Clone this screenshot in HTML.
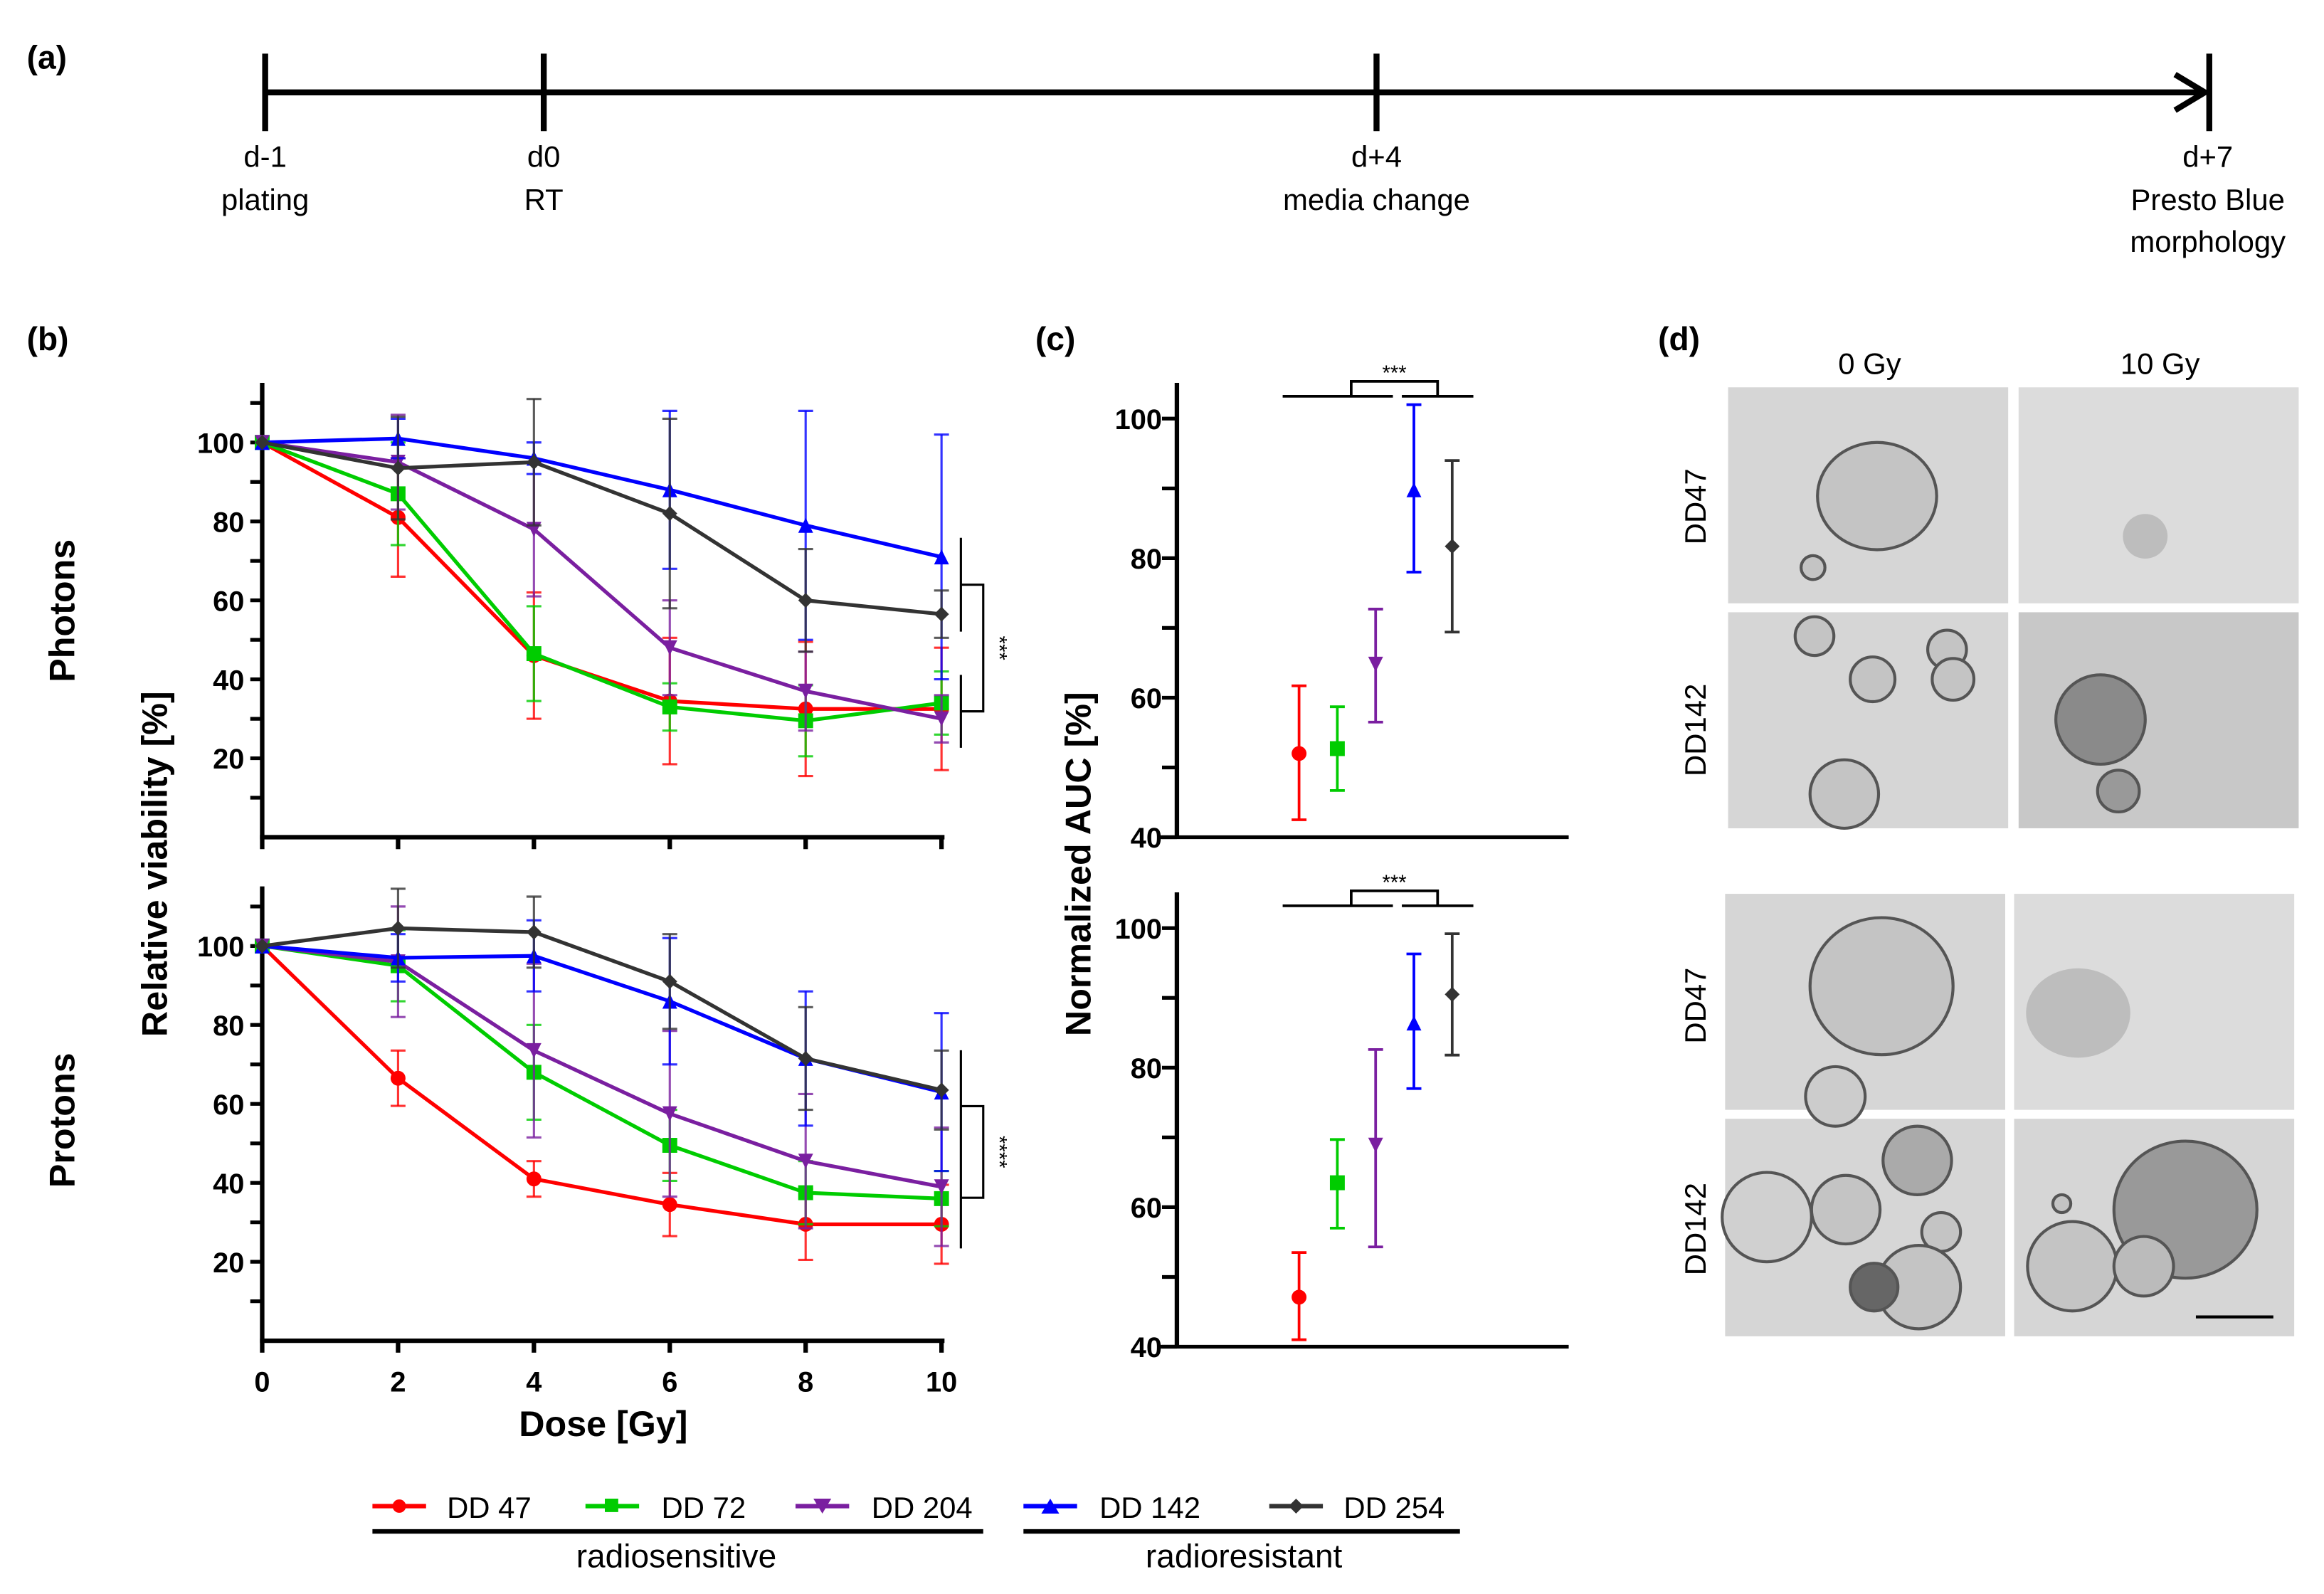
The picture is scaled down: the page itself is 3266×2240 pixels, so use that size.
<!DOCTYPE html>
<html><head><meta charset="utf-8"><style>
html,body{margin:0;padding:0;background:#fff;}
svg{display:block;}
text{font-family:"Liberation Sans",sans-serif;}
</style></head><body>
<svg id="fig" width="3266" height="2240" viewBox="0 0 1560 1070" preserveAspectRatio="none" xmlns="http://www.w3.org/2000/svg">
<rect width="1560" height="1070" fill="#fff"/>
<g>
<text x="18" y="46" font-size="22" font-weight="bold">(a)</text>
<line x1="178" y1="62" x2="1478" y2="62" stroke="#000" stroke-width="4"/>
<polyline points="1460,50 1480,62 1460,74" fill="none" stroke="#000" stroke-width="4"/>
<line x1="178" y1="36" x2="178" y2="88" stroke="#000" stroke-width="4"/>
<line x1="365" y1="36" x2="365" y2="88" stroke="#000" stroke-width="4"/>
<line x1="924" y1="36" x2="924" y2="88" stroke="#000" stroke-width="4"/>
<line x1="1483" y1="36" x2="1483" y2="88" stroke="#000" stroke-width="4"/>
<g font-size="20" text-anchor="middle">
<text x="178" y="112">d-1</text><text x="178" y="141">plating</text>
<text x="365" y="112">d0</text><text x="365" y="141">RT</text>
<text x="924" y="112">d+4</text><text x="924" y="141">media change</text>
<text x="1482" y="112">d+7</text><text x="1482" y="141">Presto Blue</text><text x="1482" y="169">morphology</text>
</g></g>
<text x="18" y="235" font-size="22" font-weight="bold">(b)</text>
<text x="695" y="235" font-size="22" font-weight="bold">(c)</text>
<text x="1113" y="235" font-size="22" font-weight="bold">(d)</text>
<text transform="translate(50,410) rotate(-90)" font-size="24" font-weight="bold" text-anchor="middle">Photons</text>
<text transform="translate(50,752) rotate(-90)" font-size="24" font-weight="bold" text-anchor="middle">Protons</text>
<text transform="translate(112,580) rotate(-90)" font-size="24" font-weight="bold" text-anchor="middle">Relative viability [%]</text>
<text x="405" y="964" font-size="24" font-weight="bold" text-anchor="middle">Dose [Gy]</text>
<text transform="translate(732,580) rotate(-90)" font-size="24" font-weight="bold" text-anchor="middle">Normalized AUC [%]</text>
<g id="plots"></g>
<g font-size="20">
<g><line x1="250" y1="1011" x2="286" y2="1011" stroke="#f00" stroke-width="3"/><circle cx="268" cy="1011" r="4.5" fill="#f00"/><text x="300" y="1019">DD 47</text></g>
<g><line x1="393" y1="1011" x2="429" y2="1011" stroke="#0c0" stroke-width="3"/><rect x="406" y="1006" width="9" height="9" fill="#0c0"/><text x="444" y="1019">DD 72</text></g>
<g><line x1="534" y1="1011" x2="570" y2="1011" stroke="#7a1fa0" stroke-width="3"/><polygon points="546,1006 558,1006 552,1016" fill="#7a1fa0"/><text x="585" y="1019">DD 204</text></g>
<g><line x1="687" y1="1011" x2="723" y2="1011" stroke="#00f" stroke-width="3"/><polygon points="699,1016 711,1016 705,1006" fill="#00f"/><text x="738" y="1019">DD 142</text></g>
<g><line x1="852" y1="1011" x2="888" y2="1011" stroke="#333" stroke-width="3"/><polygon points="870,1006 875,1011 870,1016 865,1011" fill="#333"/><text x="902" y="1019">DD 254</text></g>
<line x1="250" y1="1028" x2="660" y2="1028" stroke="#000" stroke-width="3"/>
<line x1="687" y1="1028" x2="980" y2="1028" stroke="#000" stroke-width="3"/>
<text x="454" y="1052" text-anchor="middle" font-size="22">radiosensitive</text>
<text x="835" y="1052" text-anchor="middle" font-size="22">radioresistant</text>
</g>
<g>
<text x="1255" y="251" font-size="20" text-anchor="middle">0 Gy</text>
<text x="1450" y="251" font-size="20" text-anchor="middle">10 Gy</text>
<g font-size="20" text-anchor="middle">
<text transform="translate(1145,340) rotate(-90)">DD47</text>
<text transform="translate(1145,490) rotate(-90)">DD142</text>
<text transform="translate(1145,675) rotate(-90)">DD47</text>
<text transform="translate(1145,825) rotate(-90)">DD142</text>
</g>
<g fill="#d6d6d6">
<rect x="1160" y="260" width="188" height="145"/>
<rect x="1355" y="260" width="188" height="145" fill="#dcdcdc"/>
<rect x="1160" y="411" width="188" height="145"/>
<rect x="1355" y="411" width="188" height="145" fill="#c8c8c8"/>
<rect x="1158" y="600" width="188" height="145"/>
<rect x="1352" y="600" width="188" height="145" fill="#dcdcdc"/>
<rect x="1158" y="751" width="188" height="146"/>
<rect x="1352" y="751" width="188" height="146"/>
</g>
<g fill="#c4c4c4" stroke="#555" stroke-width="2">
<ellipse cx="1260" cy="333" rx="40" ry="36"/>
<circle cx="1217" cy="381" r="8"/>
<circle cx="1218" cy="427" r="13"/><circle cx="1257" cy="456" r="15"/><circle cx="1307" cy="436" r="13"/><circle cx="1311" cy="456" r="14"/><circle cx="1238" cy="533" r="23"/>
<circle cx="1410" cy="483" r="30" fill="#8a8a8a"/><circle cx="1422" cy="531" r="14" fill="#999"/>
<ellipse cx="1263" cy="662" rx="48" ry="46"/><circle cx="1232" cy="736" r="20" fill="#ccc"/>
<circle cx="1287" cy="779" r="23" fill="#aaa"/><circle cx="1186" cy="817" r="30" fill="#d0d0d0"/><circle cx="1239" cy="812" r="23"/><circle cx="1303" cy="827" r="13"/><circle cx="1288" cy="864" r="28"/><circle cx="1258" cy="864" r="16" fill="#666"/>
<ellipse cx="1467" cy="812" rx="48" ry="46" fill="#999"/><circle cx="1391" cy="850" r="30"/><circle cx="1439" cy="850" r="20" fill="#bbb"/><circle cx="1384" cy="808" r="6"/>
</g>
<g fill="#a9a9a9"><ellipse cx="1440" cy="360" rx="15" ry="15" opacity="0.6"/><ellipse cx="1395" cy="680" rx="35" ry="30" opacity="0.6"/></g>
<line x1="1474" y1="884" x2="1526" y2="884" stroke="#000" stroke-width="2"/>
</g>
</svg>
<script>
// ---- Panel b data ----
const doses = [0, 2, 4, 6, 8, 10];
const xTicks = [0, 2, 4, 6, 8, 10];
const yTicksB = [20, 40, 60, 80, 100];
const photonDD47 = [100, 81, 46, 34.5, 32.5, 32.5];
const photonDD47Err = [0, 15, 16, 16, 17, 15.5];
const photonDD72 = [100, 87, 46.5, 33, 29.5, 34];
const photonDD72Err = [0, 13, 12, 6, 9, 8];
const photonDD204 = [100, 95, 78, 48, 37, 30];
const photonDD204Err = [0, 12, 17, 12, 10, 6];
const photonDD142 = [100, 101, 96, 88, 79, 71];
const photonDD142Err = [0, 5, 4, 20, 29, 31];
const photonDD254 = [100, 93.5, 95, 82, 60, 56.5];
const photonDD254Err = [0, 13, 16, 24, 13, 6];
const protonDD47 = [100, 66.5, 41, 34.5, 29.5, 29.5];
const protonDD47Err = [0, 7, 4.5, 8, 9, 10];
const protonDD72 = [100, 95, 68, 49.5, 37.5, 36];
const protonDD72Err = [0, 9, 12, 9, 8, 7];
const protonDD204 = [100, 96, 73.5, 57.5, 45.5, 39];
const protonDD204Err = [0, 14, 22, 21, 17, 15];
const protonDD142 = [100, 97, 97.5, 86, 71.5, 63];
const protonDD142Err = [0, 6, 9, 16, 17, 20];
const protonDD254 = [100, 104.5, 103.5, 91, 71.5, 63.5];
const protonDD254Err = [0, 10, 9, 12, 13, 10];
// ---- Panel c data ----
const aucLines = ["DD 47", "DD 72", "DD 204", "DD 142", "DD 254"];
const yTicksC = [40, 60, 80, 100];
const photonAUC = [52, 52.7, 64.8, 89.8, 81.7];
const photonAUCLo = [42.5, 46.7, 56.5, 78, 69.4];
const photonAUCHi = [61.7, 58.7, 72.7, 102, 94];
const protonAUC = [47.1, 63.5, 68.9, 86.4, 90.5];
const protonAUCLo = [41, 57, 54.3, 77, 81.8];
const protonAUCHi = [53.5, 69.7, 82.6, 96.3, 99.2];

const colors = ["#f00", "#0c0", "#7a1fa0", "#00f", "#333"];
const shapes = ["circle", "square", "down", "up", "diamond"];
const NS = "http://www.w3.org/2000/svg";
const root = document.getElementById("plots");
function mk(tag, attrs, parent) {
  const e = document.createElementNS(NS, tag);
  for (const k in attrs) e.setAttribute(k, attrs[k]);
  (parent || root).appendChild(e);
  return e;
}
function marker(g, shape, cx, cy, c, s) {
  let e;
  if (shape === "circle") e = mk("circle", {cx: cx, cy: cy, r: s, fill: c}, g);
  else if (shape === "square") e = mk("rect", {x: cx - s, y: cy - s, width: 2 * s, height: 2 * s, fill: c}, g);
  else if (shape === "down") e = mk("polygon", {points: `${cx - s},${cy - s} ${cx + s},${cy - s} ${cx},${cy + s}`, fill: c}, g);
  else if (shape === "up") e = mk("polygon", {points: `${cx - s},${cy + s} ${cx + s},${cy + s} ${cx},${cy - s}`, fill: c}, g);
  else e = mk("polygon", {points: `${cx},${cy - s} ${cx + s},${cy} ${cx},${cy + s} ${cx - s},${cy}`, fill: c}, g);
  return e;
}
function linePanel(name, yZero, series, errs) {
  const x0 = 176, x1 = 632, yTop = yZero - 305;
  const sx = d => x0 + (d / 10) * (x1 - x0);
  const sy = v => yZero - v * 2.65;
  const g = mk("g", {});
  
  
  mk("line", {x1: x0, y1: yTop, x2: x0, y2: yZero, stroke: "#000", "stroke-width": 3}, g);
  mk("line", {x1: x0 - 1.5, y1: yZero, x2: x1 + 2, y2: yZero, stroke: "#000", "stroke-width": 3}, g);
  for (let v = 10; v <= 110; v += 10) {
    mk("line", {x1: x0 - 8, y1: sy(v), x2: x0, y2: sy(v), stroke: "#000", "stroke-width": 2.5}, g);
  }
  yTicksB.forEach(v => {
    const t = mk("text", {x: x0 - 12, y: sy(v) + 7, "font-size": 19, "font-weight": "bold", "text-anchor": "end"}, g);
    t.textContent = v;
  });
  xTicks.forEach(d => {
    mk("line", {x1: sx(d), y1: yZero, x2: sx(d), y2: yZero + 8, stroke: "#000", "stroke-width": 3}, g);
  });
  series.forEach((s, i) => {
    const sg = mk("g", {}, g);
    
    
    const c = colors[i];
    s.forEach((v, j) => {
      const e = errs[i][j];
      if (e > 0) {
        const x = sx(doses[j]);
        mk("line", {x1: x, y1: sy(v - e), x2: x, y2: sy(v + e), stroke: c, "stroke-width": 1.5, opacity: 0.8}, sg);
        mk("line", {x1: x - 5, y1: sy(v - e), x2: x + 5, y2: sy(v - e), stroke: c, "stroke-width": 1.5, opacity: 0.8}, sg);
        mk("line", {x1: x - 5, y1: sy(v + e), x2: x + 5, y2: sy(v + e), stroke: c, "stroke-width": 1.5, opacity: 0.8}, sg);
      }
    });
    mk("polyline", {points: s.map((v, j) => sx(doses[j]) + "," + sy(v)).join(" "), fill: "none", stroke: c, "stroke-width": 2.5}, sg);
    s.forEach((v, j) => marker(sg, shapes[i], sx(doses[j]), sy(v), c, 5));
  });
  return {g: g, sy: sy};
}
const topPanel = linePanel("photons-plot", 562, [photonDD47, photonDD72, photonDD204, photonDD142, photonDD254],
  [photonDD47Err, photonDD72Err, photonDD204Err, photonDD142Err, photonDD254Err]);
const botPanel = linePanel("protons-plot", 900, [protonDD47, protonDD72, protonDD204, protonDD142, protonDD254],
  [protonDD47Err, protonDD72Err, protonDD204Err, protonDD142Err, protonDD254Err]);
xTicks.forEach(d => {
  const t = mk("text", {x: 176 + d / 10 * 456, y: 934, "font-size": 19, "font-weight": "bold", "text-anchor": "middle"});
  t.textContent = d;
});
function bracketB(g, yA, yB, yC, yD, label) {
  mk("path", {d: `M645,${yA} V${yB} M645,${yC} V${yD}`, stroke: "#000", "stroke-width": 1.5, fill: "none"}, g);
  const m1 = (yA + yB) / 2, m2 = (yC + yD) / 2;
  mk("path", {d: `M645,${m1} H660 V${m2} H645`, stroke: "#000", "stroke-width": 1.5, fill: "none"}, g);
  const t = mk("text", {transform: `translate(666,${(m1 + m2) / 2}) rotate(90)`, "font-size": 14, "text-anchor": "middle"}, g);
  t.textContent = label;
}
bracketB(topPanel.g, 361, 424, 453, 502, "***");
bracketB(botPanel.g, 705, 780, 770, 838, "****");
function aucPanel(name, yBase, vals, lo, hi) {
  const x0 = 790, x1 = 1053;
  const sy = v => yBase - (v - 40) * 4.683;
  const xs = i => 872 + i * 25.7;
  const g = mk("g", {});
  
  
  mk("line", {x1: x0, y1: yBase - 305, x2: x0, y2: yBase, stroke: "#000", "stroke-width": 3}, g);
  mk("line", {x1: x0 - 12, y1: yBase, x2: x1, y2: yBase, stroke: "#000", "stroke-width": 2.5}, g);
  for (let v = 40; v <= 100; v += 10) mk("line", {x1: x0 - 10, y1: sy(v), x2: x0, y2: sy(v), stroke: "#000", "stroke-width": 2.5}, g);
  yTicksC.forEach(v => {
    const t = mk("text", {x: x0 - 10, y: sy(v) + 7, "font-size": 19, "font-weight": "bold", "text-anchor": "end"}, g);
    t.textContent = v;
  });
  vals.forEach((v, i) => {
    const sg = mk("g", {}, g);
    
    
    const c = colors[i], x = xs(i);
    mk("line", {x1: x, y1: sy(lo[i]), x2: x, y2: sy(hi[i]), stroke: c, "stroke-width": 1.8}, sg);
    mk("line", {x1: x - 5, y1: sy(lo[i]), x2: x + 5, y2: sy(lo[i]), stroke: c, "stroke-width": 1.8}, sg);
    mk("line", {x1: x - 5, y1: sy(hi[i]), x2: x + 5, y2: sy(hi[i]), stroke: c, "stroke-width": 1.8}, sg);
    marker(sg, shapes[i], x, sy(v), c, 5);
  });
  const yb = yBase - 296;
  mk("path", {d: `M861,${yb} H935 M941,${yb} H989 M907,${yb} V${yb - 10} H965 V${yb}`, stroke: "#000", "stroke-width": 1.8, fill: "none"}, g);
  const t = mk("text", {x: 936, y: yb - 11, "font-size": 14, "text-anchor": "middle"}, g);
  t.textContent = "***";
}
aucPanel("photons-auc-plot", 562, photonAUC, photonAUCLo, photonAUCHi);
aucPanel("protons-auc-plot", 904, protonAUC, protonAUCLo, protonAUCHi);
</script>
</body></html>
